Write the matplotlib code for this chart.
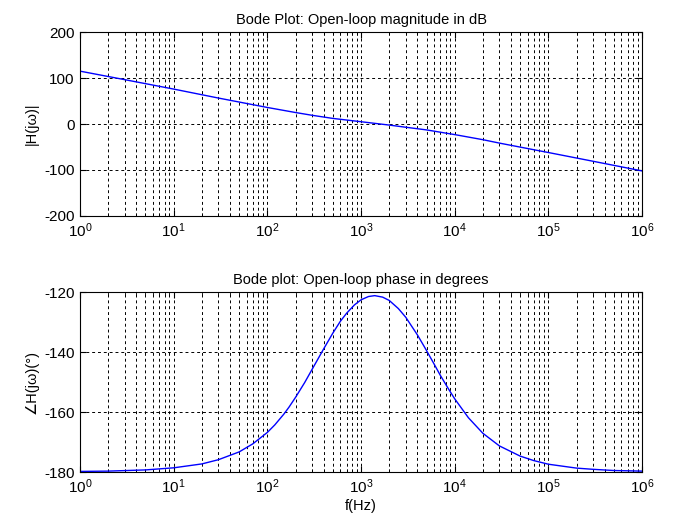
import matplotlib
matplotlib.use("Agg")
import matplotlib.pyplot as plt
from matplotlib.ticker import FixedLocator, LogLocator, NullFormatter

# Frequencies (Hz) and values
freq_mag = [1, 3, 10, 30, 100, 200, 300, 500, 1000, 2000, 3000, 5000,
            1e4, 2e4, 3e4, 1e5, 3e5, 1e6]
mag_db = [115, 96.5, 76, 56.5, 36, 25, 19, 12.2, 5, -2.3, -7, -12.8,
          -23, -34.1, -41.5, -62, -81, -102]

freq_phase = [1, 2, 5, 10, 20, 30, 50, 70, 100, 120, 150, 170, 200, 250,
              300, 350, 400, 500, 600, 700, 850, 1000, 1200, 1400, 1700,
              2000, 2500, 3000, 4000, 5000, 6000, 7000, 8500, 1e4, 1.4e4,
              2e4, 3e4, 5e4, 7e4, 1e5, 2e5, 3e5, 5e5, 1e6]
phase_deg = [-179.8, -179.7, -179.3, -178.6, -177.3, -175.9, -173.3, -170.6,
             -166.8, -164.3, -160.7, -158.4, -155.1, -150.2, -145.8, -142.1,
             -138.9, -133.7, -129.8, -127.1, -124.3, -122.6, -121.5, -121.2,
             -121.7, -122.8, -125.5, -128.4, -134.3, -139.5, -143.9, -147.7,
             -152.1, -155.6, -161.9, -167.1, -171.3, -174.7, -176.2, -177.4,
             -178.7, -179.1, -179.5, -179.7]

x_ticks = [1, 10, 100, 1e3, 1e4, 1e5, 1e6]
mag_yticks = [-200, -100, 0, 100, 200]
phase_yticks = [-180, -160, -140, -120]

plt.rcParams['font.family'] = ['Liberation Sans', 'DejaVu Sans']
plt.rcParams['font.size'] = 8.5
plt.rcParams['axes.unicode_minus'] = False
plt.rcParams['mathtext.fontset'] = 'custom'
plt.rcParams['mathtext.rm'] = 'Liberation Sans'

fig = plt.figure(figsize=(6.78, 5.30), dpi=100)
ax1 = fig.add_axes([0.118, 0.5925, 0.829, 0.347])
ax2 = fig.add_axes([0.118, 0.1094, 0.829, 0.3396])

grid_style = dict(color='black', linestyle=(0, (3, 3)), linewidth=0.7)


def style_axes(ax):
    ax.set_xscale('log')
    ax.set_xlim(1, 1e6)
    ax.xaxis.set_major_locator(FixedLocator(x_ticks))
    ax.xaxis.set_minor_locator(LogLocator(base=10, subs=range(2, 10), numticks=20))
    ax.xaxis.set_minor_formatter(NullFormatter())
    ax.grid(True, which='major', axis='both', **grid_style)
    ax.grid(True, which='minor', axis='x', **grid_style)
    ax.tick_params(which='both', direction='in', top=True, right=True,
                   labelsize=11, pad=4)
    ax.tick_params(which='major', length=4)
    ax.tick_params(which='minor', length=2)
    for s in ax.spines.values():
        s.set_linewidth(0.8)


ax1.plot(freq_mag, mag_db, color='blue', linewidth=1)
style_axes(ax1)
ax1.set_ylim(-200, 200)
ax1.set_yticks(mag_yticks)
ax1.set_title('Bode Plot: Open-loop magnitude in dB', fontsize=10.5, pad=6)
ax1.set_ylabel('|H(jω)|', fontsize=10.5)

ax2.plot(freq_phase, phase_deg, color='blue', linewidth=1)
style_axes(ax2)
ax2.set_ylim(-180, -120)
ax2.set_yticks(phase_yticks)
ax2.set_title('Bode plot: Open-loop phase in degrees', fontsize=10.5, pad=6)
ax2.set_ylabel('∠H(jω)(°)', fontsize=10.5)
ax2.set_xlabel('f(Hz)', fontsize=10.5, labelpad=2)

fig.savefig('out.png', dpi=100)
